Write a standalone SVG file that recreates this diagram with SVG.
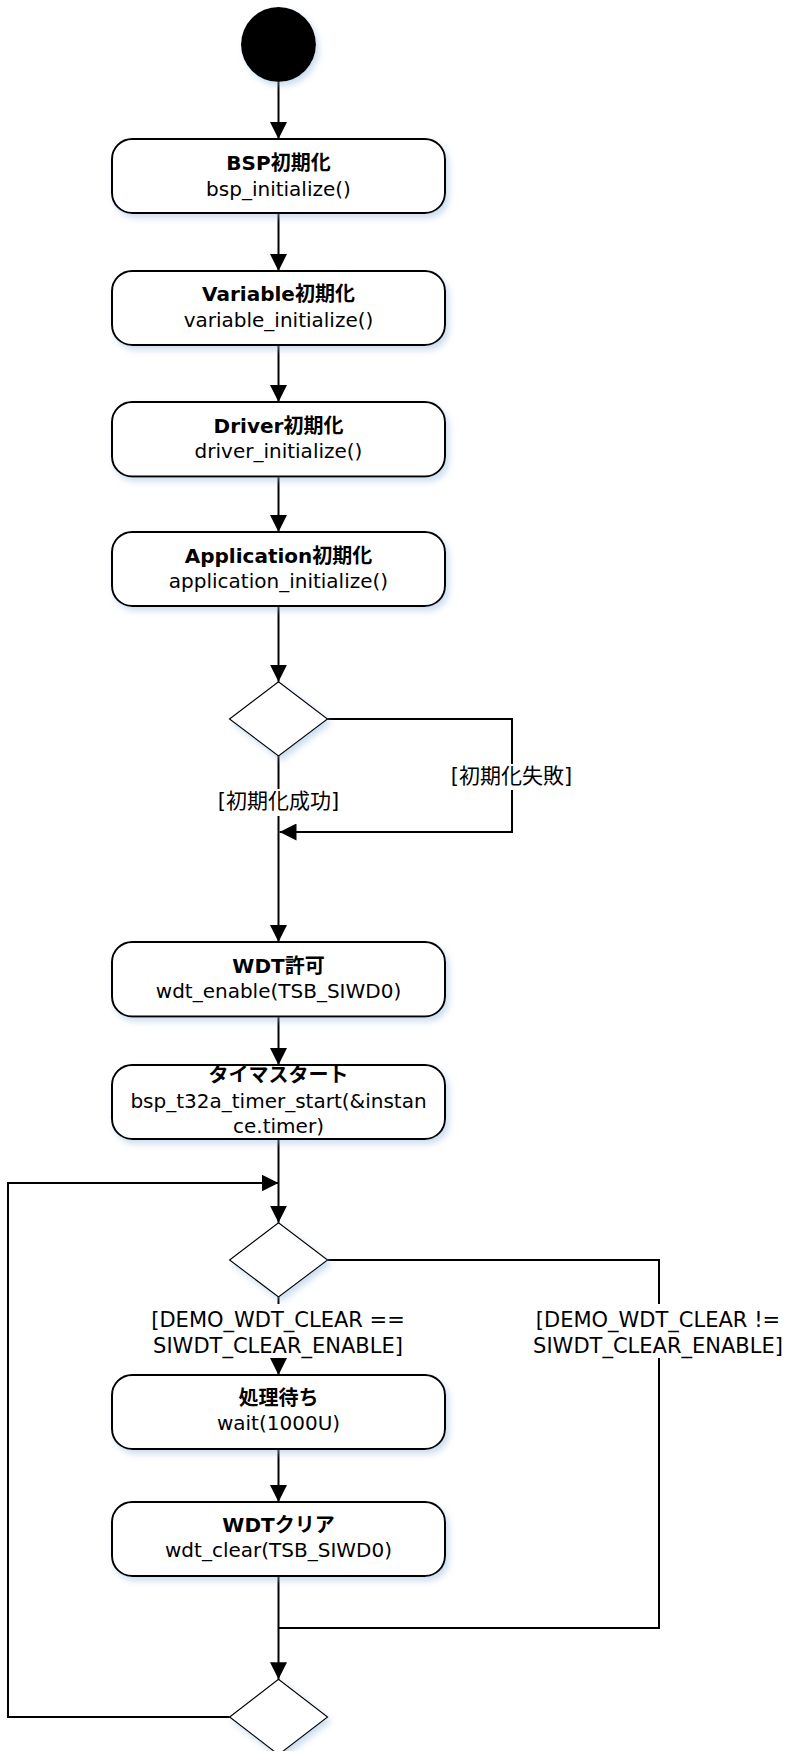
<svg xmlns="http://www.w3.org/2000/svg" width="787" height="1751" viewBox="0 0 787 1751">
<defs>
<filter id="sh" x="-20%" y="-20%" width="140%" height="150%">
<feDropShadow dx="3" dy="4" stdDeviation="3" flood-color="#8fb5dc" flood-opacity="0.45"/>
</filter>
<marker id="arr" viewBox="0 0 17 17" refX="17" refY="8.5" markerWidth="17" markerHeight="17" markerUnits="userSpaceOnUse" orient="auto">
<path d="M0,0 L17,8.5 L0,17 Z" fill="#000"/>
</marker>
</defs>
<style>
.box{fill:#fff;stroke:#000;stroke-width:2;filter:url(#sh)}
.dia{fill:#fff;stroke:#000;stroke-width:1.2;filter:url(#sh)}
.c{fill:none;stroke:#000;stroke-width:2}
.a{marker-end:url(#arr)}
text{font-family:"DejaVu Sans","Noto Sans CJK JP",sans-serif;font-size:20px;fill:#000;text-anchor:middle}
.b{font-weight:bold}
.l{font-size:21px}
.bg{fill:#fff}
</style>
<rect width="787" height="1751" fill="#fff"/>
<g id="connectors">
<line class="c a" x1="278.5" y1="82" x2="278.5" y2="139"/>
<line class="c a" x1="278.5" y1="213" x2="278.5" y2="271"/>
<line class="c a" x1="278.5" y1="345" x2="278.5" y2="402"/>
<line class="c a" x1="278.5" y1="476.5" x2="278.5" y2="532"/>
<line class="c a" x1="278.5" y1="606" x2="278.5" y2="681.7"/>
<line class="c a" x1="278.5" y1="756" x2="278.5" y2="942"/>
<polyline class="c a" points="327,719 512,719 512,832 279.5,832"/>
<line class="c a" x1="278.5" y1="1016.5" x2="278.5" y2="1065"/>
<line class="c a" x1="278.5" y1="1139" x2="278.5" y2="1222.7"/>
<line class="c a" x1="278.5" y1="1297" x2="278.5" y2="1375"/>
<polyline class="c" points="327.6,1260 659,1260 659,1628 278.5,1628"/>
<line class="c a" x1="278.5" y1="1449" x2="278.5" y2="1502"/>
<line class="c a" x1="278.5" y1="1576" x2="278.5" y2="1679.3"/>
<polyline class="c a" points="229.6,1717 8,1717 8,1183 278.5,1183"/>
<rect class="bg" x="216" y="789" width="125" height="27"/>
<text class="l" x="278.5" y="808">[初期化成功]</text>
<rect class="bg" x="449" y="764" width="125" height="26"/>
<text class="l" x="511.5" y="783">[初期化失敗]</text>
<rect class="bg" x="148" y="1304" width="261" height="54"/>
<text class="l" x="278" y="1326.7">[DEMO_WDT_CLEAR ==</text>
<text class="l" x="278" y="1353">SIWDT_CLEAR_ENABLE]</text>
<rect class="bg" x="529" y="1304" width="258" height="54"/>
<text class="l" x="658" y="1326.7">[DEMO_WDT_CLEAR !=</text>
<text class="l" x="658" y="1353">SIWDT_CLEAR_ENABLE]</text>
</g>
<g id="start"><circle cx="278.5" cy="44.5" r="37.5" fill="#000" filter="url(#sh)"/></g>
<g id="bsp"><rect class="box" x="112" y="139" width="333" height="74" rx="20"/>
<text class="b" x="278.5" y="170">BSP初期化</text><text x="278.5" y="195.5">bsp_initialize()</text></g>
<g id="variable"><rect class="box" x="112" y="271" width="333" height="74" rx="20"/>
<text class="b" x="278.5" y="301">Variable初期化</text><text x="278.5" y="327">variable_initialize()</text></g>
<g id="driver"><rect class="box" x="112" y="402" width="333" height="74.5" rx="20"/>
<text class="b" x="278.5" y="432.5">Driver初期化</text><text x="278.5" y="458">driver_initialize()</text></g>
<g id="application"><rect class="box" x="112" y="532" width="333" height="74" rx="20"/>
<text class="b" x="278.5" y="563">Application初期化</text><text x="278.5" y="588">application_initialize()</text></g>
<g id="decision1"><polygon class="dia" points="278.5,681.7 327.5,719 278.5,756 229.5,719"/></g>
<g id="wdt_enable"><rect class="box" x="112" y="942" width="333" height="74.5" rx="20"/>
<text class="b" x="278.5" y="973">WDT許可</text><text x="278.5" y="998">wdt_enable(TSB_SIWD0)</text></g>
<g id="timer_start"><rect class="box" x="112" y="1065" width="333" height="74" rx="20"/>
<text class="b" x="278.5" y="1082">タイマスタート</text><text x="278.5" y="1108">bsp_t32a_timer_start(&amp;instan</text><text x="278.5" y="1133">ce.timer)</text></g>
<g id="decision2"><polygon class="dia" points="278.5,1222.7 327.6,1260 278.5,1297 229.6,1260"/></g>
<g id="wait"><rect class="box" x="112" y="1375" width="333" height="74" rx="20"/>
<text class="b" x="278.5" y="1405">処理待ち</text><text x="278.5" y="1430">wait(1000U)</text></g>
<g id="wdt_clear"><rect class="box" x="112" y="1502" width="333" height="74" rx="20"/>
<text class="b" x="278.5" y="1532">WDTクリア</text><text x="278.5" y="1557">wdt_clear(TSB_SIWD0)</text></g>
<g id="decision3"><polygon class="dia" points="278.5,1679.3 327.6,1717 278.5,1754.7 229.6,1717"/></g>
</svg>
